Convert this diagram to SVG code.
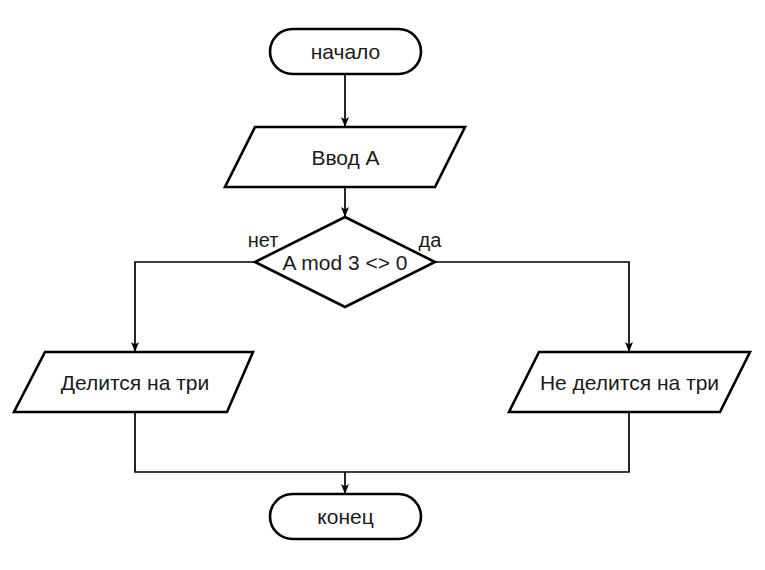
<svg xmlns="http://www.w3.org/2000/svg" width="765" height="570" viewBox="0 0 765 570">
<defs>
<marker id="arr" markerWidth="10" markerHeight="8" refX="9" refY="4" orient="auto" markerUnits="userSpaceOnUse">
<path d="M0,0 L10,4 L0,8 L2.5,4 z" fill="#000"/>
</marker>
<style>
.shape{fill:#fff;stroke:#000;stroke-width:2.6;stroke-linejoin:miter}
.conn{fill:none;stroke:#000;stroke-width:1.7}
.t{font-family:"Liberation Sans",Arial,sans-serif;font-size:21px;fill:#1a1a1a;text-anchor:middle;dominant-baseline:central}
.lbl{font-family:"Liberation Sans",Arial,sans-serif;font-size:20px;fill:#1a1a1a;text-anchor:middle}
</style>
</defs>
<rect width="765" height="570" fill="#fff"/>
<g id="connectors">
<path class="conn" d="M345,74 L345,126" marker-end="url(#arr)"/>
<path class="conn" d="M345,187 L345,216" marker-end="url(#arr)"/>
<path class="conn" d="M255,262 L135,262 L135,351" marker-end="url(#arr)"/>
<path class="conn" d="M435,262 L629,262 L629,351" marker-end="url(#arr)"/>
<path class="conn" d="M135,412 L135,472 L629,472 L629,412"/>
<path class="conn" d="M345,472 L345,493" marker-end="url(#arr)"/>
</g>
<g id="start">
<rect class="shape" x="270" y="29" width="151" height="45" rx="22.5"/>
<text class="t" x="345.5" y="51.5">начало</text>
</g>
<g id="input">
<polygon class="shape" points="255,127 465,127 435,187 225,187"/>
<text class="t" x="345.5" y="157">Ввод А</text>
</g>
<g id="decision">
<polygon class="shape" points="345,217 435,262 345,307 255,262"/>
<text class="t" x="345" y="262">A mod 3 &lt;&gt; 0</text>
<text class="lbl" x="263" y="247">нет</text>
<text class="lbl" x="430" y="247">да</text>
</g>
<g id="div">
<polygon class="shape" points="45,352 253,352 227,412 14,412"/>
<text class="t" x="135" y="382">Делится на три</text>
</g>
<g id="notdiv">
<polygon class="shape" points="539,352 750,352 720,412 509,412"/>
<text class="t" x="629.5" y="382">Не делится на три</text>
</g>
<g id="end">
<rect class="shape" x="270" y="494" width="151" height="45" rx="22.5"/>
<text class="t" x="345.5" y="516.5">конец</text>
</g>
</svg>
